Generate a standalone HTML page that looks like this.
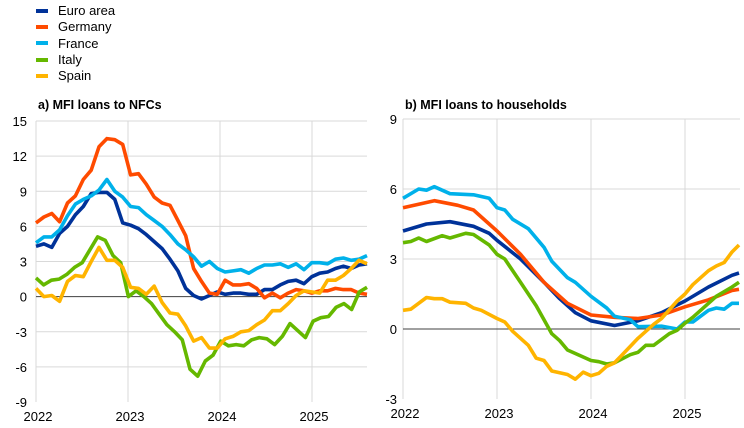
<!DOCTYPE html>
<html><head><meta charset="utf-8"><style>
html,body{margin:0;padding:0;background:#fff;}
svg{display:block;font-family:"Liberation Sans",Arial,sans-serif;}
</style></head><body>
<svg id="s" width="744" height="428" viewBox="0 0 744 428" xmlns="http://www.w3.org/2000/svg">
<g font-size="13" fill="#000">
<rect x="36" y="9" width="12" height="4" fill="#003299"/><text x="58" y="15">Euro area</text>
<rect x="36" y="25" width="12" height="4" fill="#ff4b00"/><text x="58" y="31">Germany</text>
<rect x="36" y="41" width="12" height="4" fill="#00b1ea"/><text x="58" y="48">France</text>
<rect x="36" y="58" width="12" height="4" fill="#65b800"/><text x="58" y="64">Italy</text>
<rect x="36" y="74" width="12" height="4" fill="#ffb400"/><text x="58" y="80">Spain</text>
</g>
<text x="38" y="109" font-size="12.5" font-weight="bold">a) MFI loans to NFCs</text>
<text x="405" y="109" font-size="12.5" font-weight="bold">b) MFI loans to households</text>
<g id="g"></g>
</svg>
<script>
var NS="http://www.w3.org/2000/svg",g=document.getElementById('g');
function el(t,a,txt){var e=document.createElementNS(NS,t);for(var k in a)e.setAttribute(k,a[k]);if(txt!=null)e.textContent=txt;g.appendChild(e);return e;}
var C=["#003299","#ff4b00","#00b1ea","#65b800","#ffb400"];
var L={x0:36,x1:367,yr:[128,220,312],v0:15,vy0:121,v1:-9,vy1:402,ticks:[15,12,9,6,3,0,-3,-6,-9],lx:27};
var R={x0:403,x1:740,yr:[497,591,685],v0:9,vy0:119,v1:-3,vy1:399,ticks:[9,6,3,0,-3],lx:397};
function panel(P,series,monthly){
  var Y=function(v){return P.vy0+(P.v0-v)*(P.vy1-P.vy0)/(P.v0-P.v1);};
  P.ticks.forEach(function(t){
    if(t!==P.v1&&t!==0) el('line',{x1:P.x0,x2:P.x1,y1:Y(t),y2:Y(t),stroke:'#d9d9d9','stroke-width':1});
    el('text',{x:P.lx,y:Y(t)+5,'font-size':13,'text-anchor':'end'},t);
  });
  P.yr.forEach(function(x){el('line',{x1:x,x2:x,y1:P.vy0,y2:P.vy1,stroke:'#d9d9d9','stroke-width':1});});
  el('line',{x1:P.x0,x2:P.x0,y1:P.vy0,y2:P.vy1,stroke:'#d9d9d9','stroke-width':1});
  ["2022","2023","2024","2025"].forEach(function(s,i){var x=i==0?P.x0:P.yr[i-1];el('text',{x:x+2,y:P.vy1+19,'font-size':13,'text-anchor':'middle'},s);});
  el('line',{x1:P.x0,x2:P.x1,y1:Y(0),y2:Y(0),stroke:'#404040','stroke-width':1});
  var pm=(P.yr[0]-P.x0)/12;
  series.forEach(function(s,i){
    var pts=[];
    if(monthly){s.forEach(function(v,m){pts.push([P.x0+m*(P.x1-P.x0)/(s.length-1),Y(v)]);});}
    else{s.forEach(function(p){pts.push([Math.min(P.x0+p[0]*pm,P.x1-1),Y(p[1])]);});}
    el('polyline',{points:pts.map(function(p){return p[0].toFixed(1)+','+p[1].toFixed(1)}).join(' '),fill:'none',stroke:C[i],'stroke-width':3.6,'stroke-linejoin':'round'});
  });
}
var nfc=[
[4.3,4.5,4.2,5.4,6.0,7.0,7.7,8.8,8.9,8.9,8.3,6.3,6.1,5.8,5.3,4.7,4.1,3.2,2.2,0.7,0.1,-0.2,0.1,0.4,0.2,0.3,0.3,0.2,0.2,0.6,0.6,1.0,1.3,1.4,1.1,1.7,2.0,2.1,2.4,2.6,2.4,2.7,2.8],
[6.3,6.8,7.1,6.4,8.0,8.6,10.0,10.8,12.8,13.5,13.4,13.0,10.4,10.5,9.6,8.5,8.0,7.8,6.5,5.2,2.4,1.3,0.3,0.2,1.4,1.0,1.0,1.1,0.7,-0.1,0.3,-0.1,0.3,0.6,0.5,0.3,0.5,0.5,0.7,0.6,0.6,0.3,0.2],
[4.6,5.1,5.1,5.7,6.9,7.9,8.3,8.6,9.1,10.0,9.0,8.5,7.7,7.6,7.0,6.5,6.0,5.3,4.5,4.0,3.4,2.6,3.0,2.4,2.1,2.2,2.3,2.0,2.4,2.7,2.7,2.8,2.5,2.8,2.3,2.9,2.9,2.8,3.2,3.3,3.1,3.2,3.5],
[1.6,1.0,1.4,1.5,1.9,2.5,2.9,4.0,5.1,4.8,3.5,2.9,0.0,0.5,0.0,-0.6,-1.5,-2.4,-3.0,-3.7,-6.2,-6.8,-5.5,-5.0,-3.8,-4.2,-4.1,-4.2,-3.7,-3.5,-3.6,-4.1,-3.4,-2.3,-2.9,-3.5,-2.1,-1.8,-1.7,-0.9,-0.6,-1.1,0.4,0.8],
[0.7,0.0,0.1,-0.4,1.3,1.8,1.7,3.0,4.2,3.1,3.1,2.5,0.8,0.7,0.2,0.9,-0.5,-1.4,-1.5,-2.5,-3.8,-3.5,-4.4,-4.4,-3.6,-3.4,-3.0,-2.9,-2.4,-2.0,-1.2,-1.2,-0.6,0.1,0.5,0.4,0.3,1.4,1.4,1.8,2.4,3.1,2.8]];
panel(L,nfc,true);
var hh=[
[[0,4.2],[3,4.5],[6,4.6],[9,4.4],[11,4.1],[12,3.8],[15,3.0],[18,2.0],[20,1.3],[22,0.7],[24,0.35],[27,0.15],[30,0.35],[33,0.7],[36,1.2],[39,1.8],[42,2.3],[43.3,2.4]],
[[0,5.2],[4,5.5],[7,5.3],[9,5.1],[12,4.2],[15,3.2],[18,2.0],[21,1.1],[24,0.6],[27,0.5],[30,0.45],[33,0.6],[36,0.95],[39,1.25],[42,1.65],[43.3,1.7]],
[[0,5.6],[2,6.0],[3,5.95],[4,6.1],[6,5.8],[9,5.75],[11,5.6],[12,5.2],[13,5.1],[14,4.7],[16,4.3],[18,3.5],[19,2.9],[21,2.2],[22,2.0],[24,1.4],[26,0.9],[27,0.55],[29,0.4],[30,0.1],[33,0.12],[35,0.0],[36,0.3],[37,0.3],[39,0.8],[40,0.9],[41,0.85],[42,1.1],[43.3,1.1]],
[[0,3.7],[1,3.75],[2,3.9],[3,3.75],[5,4.0],[6,3.9],[8,4.1],[9,4.05],[11,3.6],[12,3.2],[13,3.0],[15,2.0],[17,1.0],[19,-0.2],[20,-0.5],[21,-0.9],[23,-1.2],[24,-1.35],[25,-1.4],[26,-1.5],[27,-1.45],[29,-1.1],[30,-1.0],[31,-0.7],[32,-0.7],[34,-0.2],[35,-0.05],[36,0.25],[37,0.5],[39,1.1],[40,1.4],[42,1.8],[43.3,2.0]],
[[0,0.8],[1,0.85],[2,1.1],[3,1.35],[4,1.3],[5,1.3],[6,1.15],[8,1.1],[9,0.9],[10,0.8],[12,0.45],[13,0.3],[14,-0.1],[16,-0.7],[17,-1.25],[18,-1.35],[19,-1.8],[21,-1.95],[22,-2.15],[23,-1.85],[24,-2.0],[25,-1.9],[26,-1.6],[27,-1.45],[28,-1.1],[30,-0.4],[32,0.2],[33,0.45],[35,1.2],[36,1.5],[37,1.9],[39,2.5],[40,2.7],[41,2.85],[42,3.3],[43.3,3.6]]];
panel(R,hh,false);
</script>
</body></html>
